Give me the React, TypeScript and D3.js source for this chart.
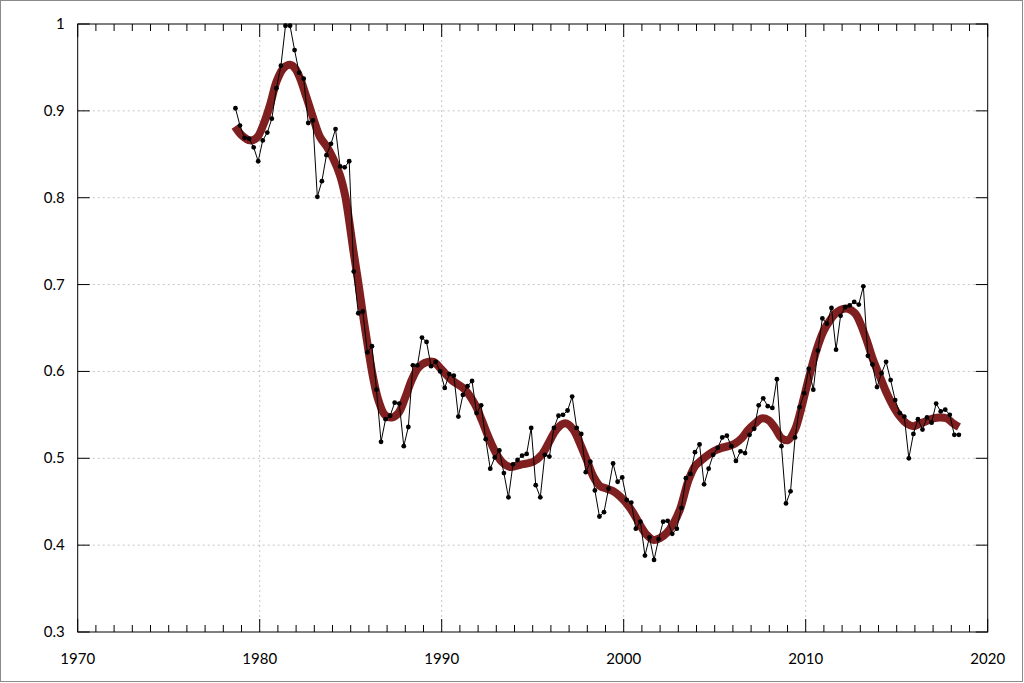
import React, { useEffect } from "react";
import * as d3 from "d3";

// Quarterly series: first observation and step (years)
const START_YEAR = 1978.667;
const STEP = 0.25;
const values: number[] = [
  0.903, 0.883, 0.869, 0.868, 0.858, 0.842, 0.866, 0.875, 0.891, 0.926,
  0.952, 0.998, 0.998, 0.970, 0.944, 0.937, 0.886, 0.889, 0.801, 0.819,
  0.849, 0.862, 0.879, 0.836, 0.835, 0.842, 0.715, 0.667, 0.669, 0.622,
  0.629, 0.579, 0.519, 0.545, 0.549, 0.564, 0.563, 0.514, 0.536, 0.607,
  0.607, 0.639, 0.634, 0.606, 0.611, 0.600, 0.581, 0.597, 0.595, 0.548,
  0.573, 0.583, 0.589, 0.552, 0.561, 0.522, 0.488, 0.501, 0.509, 0.483,
  0.455, 0.493, 0.498, 0.503, 0.505, 0.535, 0.469, 0.455, 0.504, 0.502,
  0.535, 0.549, 0.550, 0.555, 0.571, 0.535, 0.528, 0.484, 0.496, 0.463,
  0.433, 0.438, 0.465, 0.494, 0.473, 0.478, 0.452, 0.449, 0.419, 0.427,
  0.388, 0.409, 0.383, 0.407, 0.427, 0.428, 0.413, 0.419, 0.443, 0.477,
  0.482, 0.507, 0.516, 0.470, 0.488, 0.504, 0.512, 0.524, 0.526, 0.514,
  0.497, 0.508, 0.506, 0.527, 0.534, 0.561, 0.569, 0.560, 0.558, 0.591,
  0.514, 0.448, 0.462, 0.524, 0.559, 0.575, 0.603, 0.579, 0.624, 0.661,
  0.655, 0.673, 0.625, 0.664, 0.674, 0.676, 0.680, 0.677, 0.698, 0.618,
  0.608, 0.582, 0.598, 0.611, 0.590, 0.567, 0.552, 0.548, 0.500, 0.528,
  0.545, 0.533, 0.547, 0.541, 0.563, 0.554, 0.556, 0.550, 0.527, 0.527,
];

// Smoothed trend
const smoothYears: number[] = [
  1978.64, 1979.01, 1979.47, 1979.84, 1980.2, 1980.57, 1980.93, 1981.3, 1981.67, 1981.94,
  1982.21, 1982.58, 1982.95, 1983.31, 1983.68, 1984.04, 1984.41, 1984.69, 1984.87, 1985.14,
  1985.42, 1985.69, 1985.97, 1986.24, 1986.52, 1986.88, 1987.25, 1987.62, 1987.98, 1988.35,
  1988.71, 1989.08, 1989.54, 1990.0, 1990.55, 1991.28, 1991.83, 1992.2, 1992.56, 1992.93,
  1993.3, 1993.75, 1994.4, 1995.03, 1995.49, 1995.86, 1996.23, 1996.59, 1996.87, 1997.23,
  1997.6, 1997.97, 1998.33, 1998.7, 1999.07, 1999.43, 1999.8, 2000.16, 2000.53, 2000.9,
  2001.26, 2001.63, 2001.99, 2002.36, 2002.73, 2003.09, 2003.55, 2003.92, 2004.29, 2004.65,
  2005.02, 2005.38, 2005.75, 2006.12, 2006.48, 2006.85, 2007.21, 2007.58, 2007.95, 2008.31,
  2008.68, 2009.04, 2009.41, 2009.69, 2009.87, 2010.24, 2010.6, 2010.97, 2011.34, 2011.7,
  2012.07, 2012.34, 2012.71, 2012.99, 2013.35, 2013.71, 2014.08, 2014.45, 2014.81, 2015.18,
  2015.55, 2015.91, 2016.28, 2016.65, 2017.01, 2017.38, 2017.75, 2018.11, 2018.42,
];
const smoothValues: number[] = [
  0.882, 0.872, 0.866, 0.869, 0.884, 0.907, 0.934, 0.949, 0.953, 0.949,
  0.938, 0.915, 0.891, 0.870, 0.859, 0.845, 0.826, 0.803, 0.78, 0.74,
  0.702, 0.663, 0.625, 0.592, 0.567, 0.55, 0.547, 0.552, 0.569, 0.59,
  0.604, 0.61, 0.611, 0.602, 0.59, 0.579, 0.562, 0.544, 0.525, 0.508,
  0.496, 0.49, 0.493, 0.496, 0.504, 0.517, 0.531, 0.539, 0.54, 0.533,
  0.517, 0.498, 0.479, 0.468, 0.465, 0.462, 0.456, 0.448, 0.437, 0.423,
  0.412, 0.406, 0.408, 0.414, 0.425, 0.441, 0.474, 0.491, 0.498, 0.504,
  0.509, 0.512, 0.514, 0.517, 0.523, 0.533, 0.54, 0.546, 0.544, 0.535,
  0.523, 0.521, 0.533, 0.552, 0.567, 0.598, 0.625, 0.646, 0.659, 0.668,
  0.672, 0.672, 0.667, 0.656, 0.636, 0.613, 0.594, 0.575, 0.56, 0.548,
  0.54, 0.537, 0.54, 0.543, 0.546, 0.547, 0.546, 0.54, 0.536,
];

const xMajorTicks = [1970, 1980, 1990, 2000, 2010, 2020];
const yTicks = [0.3, 0.4, 0.5, 0.6, 0.7, 0.8, 0.9, 1];
const yTickLabels = ["0.3", "0.4", "0.5", "0.6", "0.7", "0.8", "0.9", "1"];

const W = 1024;
const H = 683;
const M = { left: 77.7, right: 1024 - 987.7, top: 24, bottom: 683 - 632 };

export default function App() {
  useEffect(() => {
    document.body.style.margin = "0";
  }, []);

  const x = d3.scaleLinear().domain([1970, 2020]).range([M.left, W - M.right]);
  const y = d3.scaleLinear().domain([0.3, 1]).range([H - M.bottom, M.top]);

  const pts = values.map((v, i) => [START_YEAR + i * STEP, v] as [number, number]);
  const smooth = smoothYears.map((yr, i) => [yr, smoothValues[i]] as [number, number]);

  const dataLine = d3
    .line<[number, number]>()
    .x((d) => x(d[0]))
    .y((d) => y(d[1]))(pts) as string;
  const smoothLine = d3
    .line<[number, number]>()
    .x((d) => x(d[0]))
    .y((d) => y(d[1]))
    .curve(d3.curveCatmullRom.alpha(0.5))(smooth) as string;

  const minorYears = d3.range(1971, 2020).filter((yr) => yr % 10 !== 0);
  const x0 = x(1970);
  const x1 = x(2020);
  const y0 = y(0.3);
  const y1 = y(1);
  const font = "Lato, 'DejaVu Sans', sans-serif";

  return (
    <svg width={W} height={H} style={{ display: "block" }}>
      <rect x={0} y={0} width={W} height={H} fill="#fff" />
      <rect x={0.5} y={0.5} width={1022} height={681} fill="none" stroke="#8a8a8a" strokeWidth={1} />
      {/* grid */}
      <g stroke="#c4c4c4" strokeWidth={1} strokeDasharray="2,3">
        {xMajorTicks.slice(1, -1).map((t) => (
          <line key={"gx" + t} x1={x(t)} x2={x(t)} y1={y0} y2={y1} />
        ))}
        {yTicks.slice(1, -1).map((t) => (
          <line key={"gy" + t} x1={x0} x2={x1} y1={y(t)} y2={y(t)} />
        ))}
      </g>
      {/* ticks */}
      <g stroke="#000" strokeWidth={1}>
        {minorYears.map((t) => (
          <g key={"mx" + t}>
            <line x1={x(t)} x2={x(t)} y1={y0} y2={y0 - 7} />
            <line x1={x(t)} x2={x(t)} y1={y1} y2={y1 + 7} />
          </g>
        ))}
        {xMajorTicks.map((t) => (
          <g key={"Mx" + t}>
            <line x1={x(t)} x2={x(t)} y1={y0} y2={y0 - 13} />
            <line x1={x(t)} x2={x(t)} y1={y1} y2={y1 + 13} />
          </g>
        ))}
        {yTicks.map((t) => (
          <g key={"My" + t}>
            <line x1={x0} x2={x0 + 12} y1={y(t)} y2={y(t)} />
            <line x1={x1} x2={x1 - 12} y1={y(t)} y2={y(t)} />
          </g>
        ))}
      </g>
      {/* frame */}
      <rect x={x0} y={y1} width={x1 - x0} height={y0 - y1} fill="none" stroke="#000" strokeWidth={1} />
      {/* labels */}
      <g fontFamily={font} fontSize={15} fill="#000">
        {xMajorTicks.map((t) => (
          <text key={"lx" + t} x={x(t)} y={y0 + 32} textAnchor="middle">
            {t}
          </text>
        ))}
        {yTicks.map((t, i) => (
          <text key={"ly" + t} x={x0 - 13} y={y(t) + 5} textAnchor="end">
            {yTickLabels[i]}
          </text>
        ))}
      </g>
      {/* smooth trend */}
      <path d={smoothLine} fill="none" stroke="#7f1f1f" strokeWidth={8} strokeLinejoin="round" />
      {/* data */}
      <path d={dataLine} fill="none" stroke="#000" strokeWidth={1} />
      <g fill="#000">
        {pts.map((d, i) => (
          <circle key={i} cx={x(d[0])} cy={y(d[1])} r={2.4} />
        ))}
      </g>
    </svg>
  );
}
